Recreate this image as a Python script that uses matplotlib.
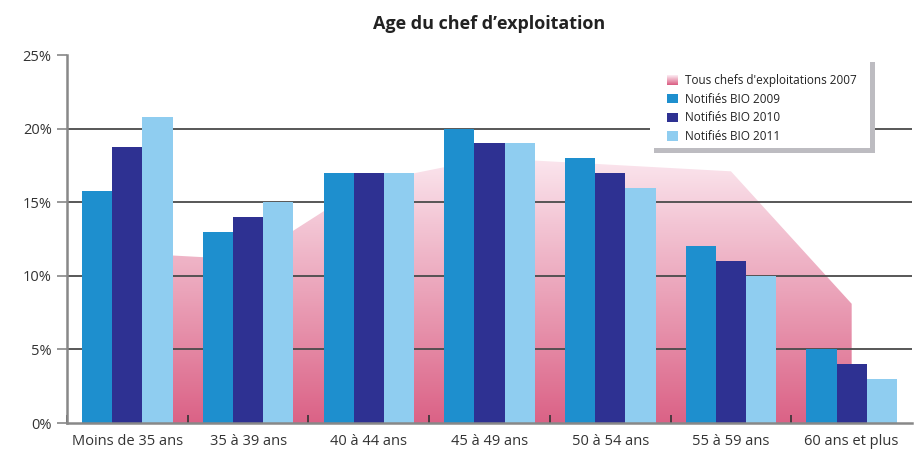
import matplotlib
matplotlib.use('Agg')
import matplotlib.pyplot as plt
import numpy as np
from matplotlib.colors import LinearSegmentedColormap
from matplotlib.patches import Rectangle, Patch
from matplotlib.legend_handler import HandlerBase

categories = ['Moins de 35 ans', '35 à 39 ans', '40 à 44 ans', '45 à 49 ans',
              '50 à 54 ans', '55 à 59 ans', '60 ans et plus']
tous_2007 = [11.55, 11.1, 16.35, 18.0, 17.55, 17.1, 8.1]
bio_2009 = [15.75, 13, 17, 20, 18, 12, 5]
bio_2010 = [18.75, 14, 17, 19, 17, 11, 4]
bio_2011 = [20.8, 15, 17, 19, 16, 10, 3]

plt.rcParams['font.family'] = ['Open Sans', 'DejaVu Sans']

pink = LinearSegmentedColormap.from_list('pink', ['#db6286', '#fbe6ee'])


class GradHandler(HandlerBase):
    # legend swatch with the same vertical gradient as the area
    def create_artists(self, legend, orig_handle, xdescent, ydescent,
                       width, height, fontsize, trans):
        n = 10
        arts = []
        for i in range(n):
            r = Rectangle((-xdescent, -ydescent + i * height / n), width,
                          height / n + 0.2, facecolor=pink(i / (n - 1)),
                          edgecolor='none', transform=trans)
            arts.append(r)
        return arts


W, H = 918, 455
fig = plt.figure(figsize=(W / 100, H / 100), dpi=100)
ax = fig.add_axes([0.073, 0.0703, 0.9205, 0.8087])

x = np.arange(len(categories))

# gradient area for all farm heads 2007
poly = ax.fill_between(x, tous_2007, 0, facecolor='none', edgecolor='none')
grad = np.linspace(0, 1, 256).reshape(-1, 1)
img = ax.imshow(grad, cmap=pink, origin='lower', aspect='auto',
                extent=[x[0], x[-1], 0, max(tous_2007)], zorder=1)
img.set_clip_path(poly.get_paths()[0], transform=ax.transData)

for y in [5, 10, 15, 20]:
    ax.axhline(y, color='#4a4a4a', lw=1.3, zorder=2)

w = 0.25
ax.bar(x - w, bio_2009, w, color='#1e8fce', zorder=3, label='Notifiés BIO 2009')
ax.bar(x, bio_2010, w, color='#2e3192', zorder=3, label='Notifiés BIO 2010')
ax.bar(x + w, bio_2011, w, color='#8fcdf0', zorder=3, label='Notifiés BIO 2011')

ax.set_xlim(-0.5, len(categories) - 0.5)
ax.set_ylim(0, 25)
ax.set_yticks([0, 5, 10, 15, 20, 25])
ax.set_yticklabels(['0%', '5%', '10%', '15%', '20%', '25%'])
ax.set_xticks(x)
ax.set_xticklabels(categories)
ax.set_xticks(np.arange(len(categories)) - 0.5, minor=True)
ax.tick_params(axis='y', direction='out', length=7, width=1.2, color='#888888',
               labelsize=10.5, labelcolor='#333333', pad=4)
ax.tick_params(axis='x', which='major', length=0, labelsize=10.5,
               labelcolor='#333333', pad=8)
ax.tick_params(axis='x', which='minor', direction='in', length=6, width=1.2,
               color='#333333')
for s in ['top', 'right']:
    ax.spines[s].set_visible(False)
for s in ['left', 'bottom']:
    ax.spines[s].set_color('#888888')
    ax.spines[s].set_linewidth(1.8)
    ax.spines[s].set_zorder(4)

ax.set_title('Age du chef d\u2019exploitation', fontsize=13, fontweight='bold',
             color='#222222', pad=19)

# legend box with flat grey shadow (pixel positions from the top left)
def px_rect(x0, y0, x1, y1, color, z):
    fig.add_artist(Rectangle((x0 / W, 1 - y1 / H), (x1 - x0) / W,
                             (y1 - y0) / H, transform=fig.transFigure,
                             facecolor=color, edgecolor='none', zorder=z))

px_rect(654, 62, 875, 153, '#bdbcc1', 5)
px_rect(650, 56, 870, 148, 'white', 6)

handles = [Patch(label="Tous chefs d'exploitations 2007")]
h, l = ax.get_legend_handles_labels()
handles += h
leg = fig.legend(handles=handles, loc='upper left',
                 bbox_to_anchor=(667 / W, 1 - 74 / H), fontsize=8.5,
                 handler_map={Patch: GradHandler()},
                 handlelength=0.95, handleheight=0.85, handletextpad=0.55,
                 labelspacing=0.48, borderpad=0, borderaxespad=0,
                 frameon=False)
leg.set_zorder(7)
for t in leg.get_texts():
    t.set_color('#222222')

plt.savefig('out.png')
